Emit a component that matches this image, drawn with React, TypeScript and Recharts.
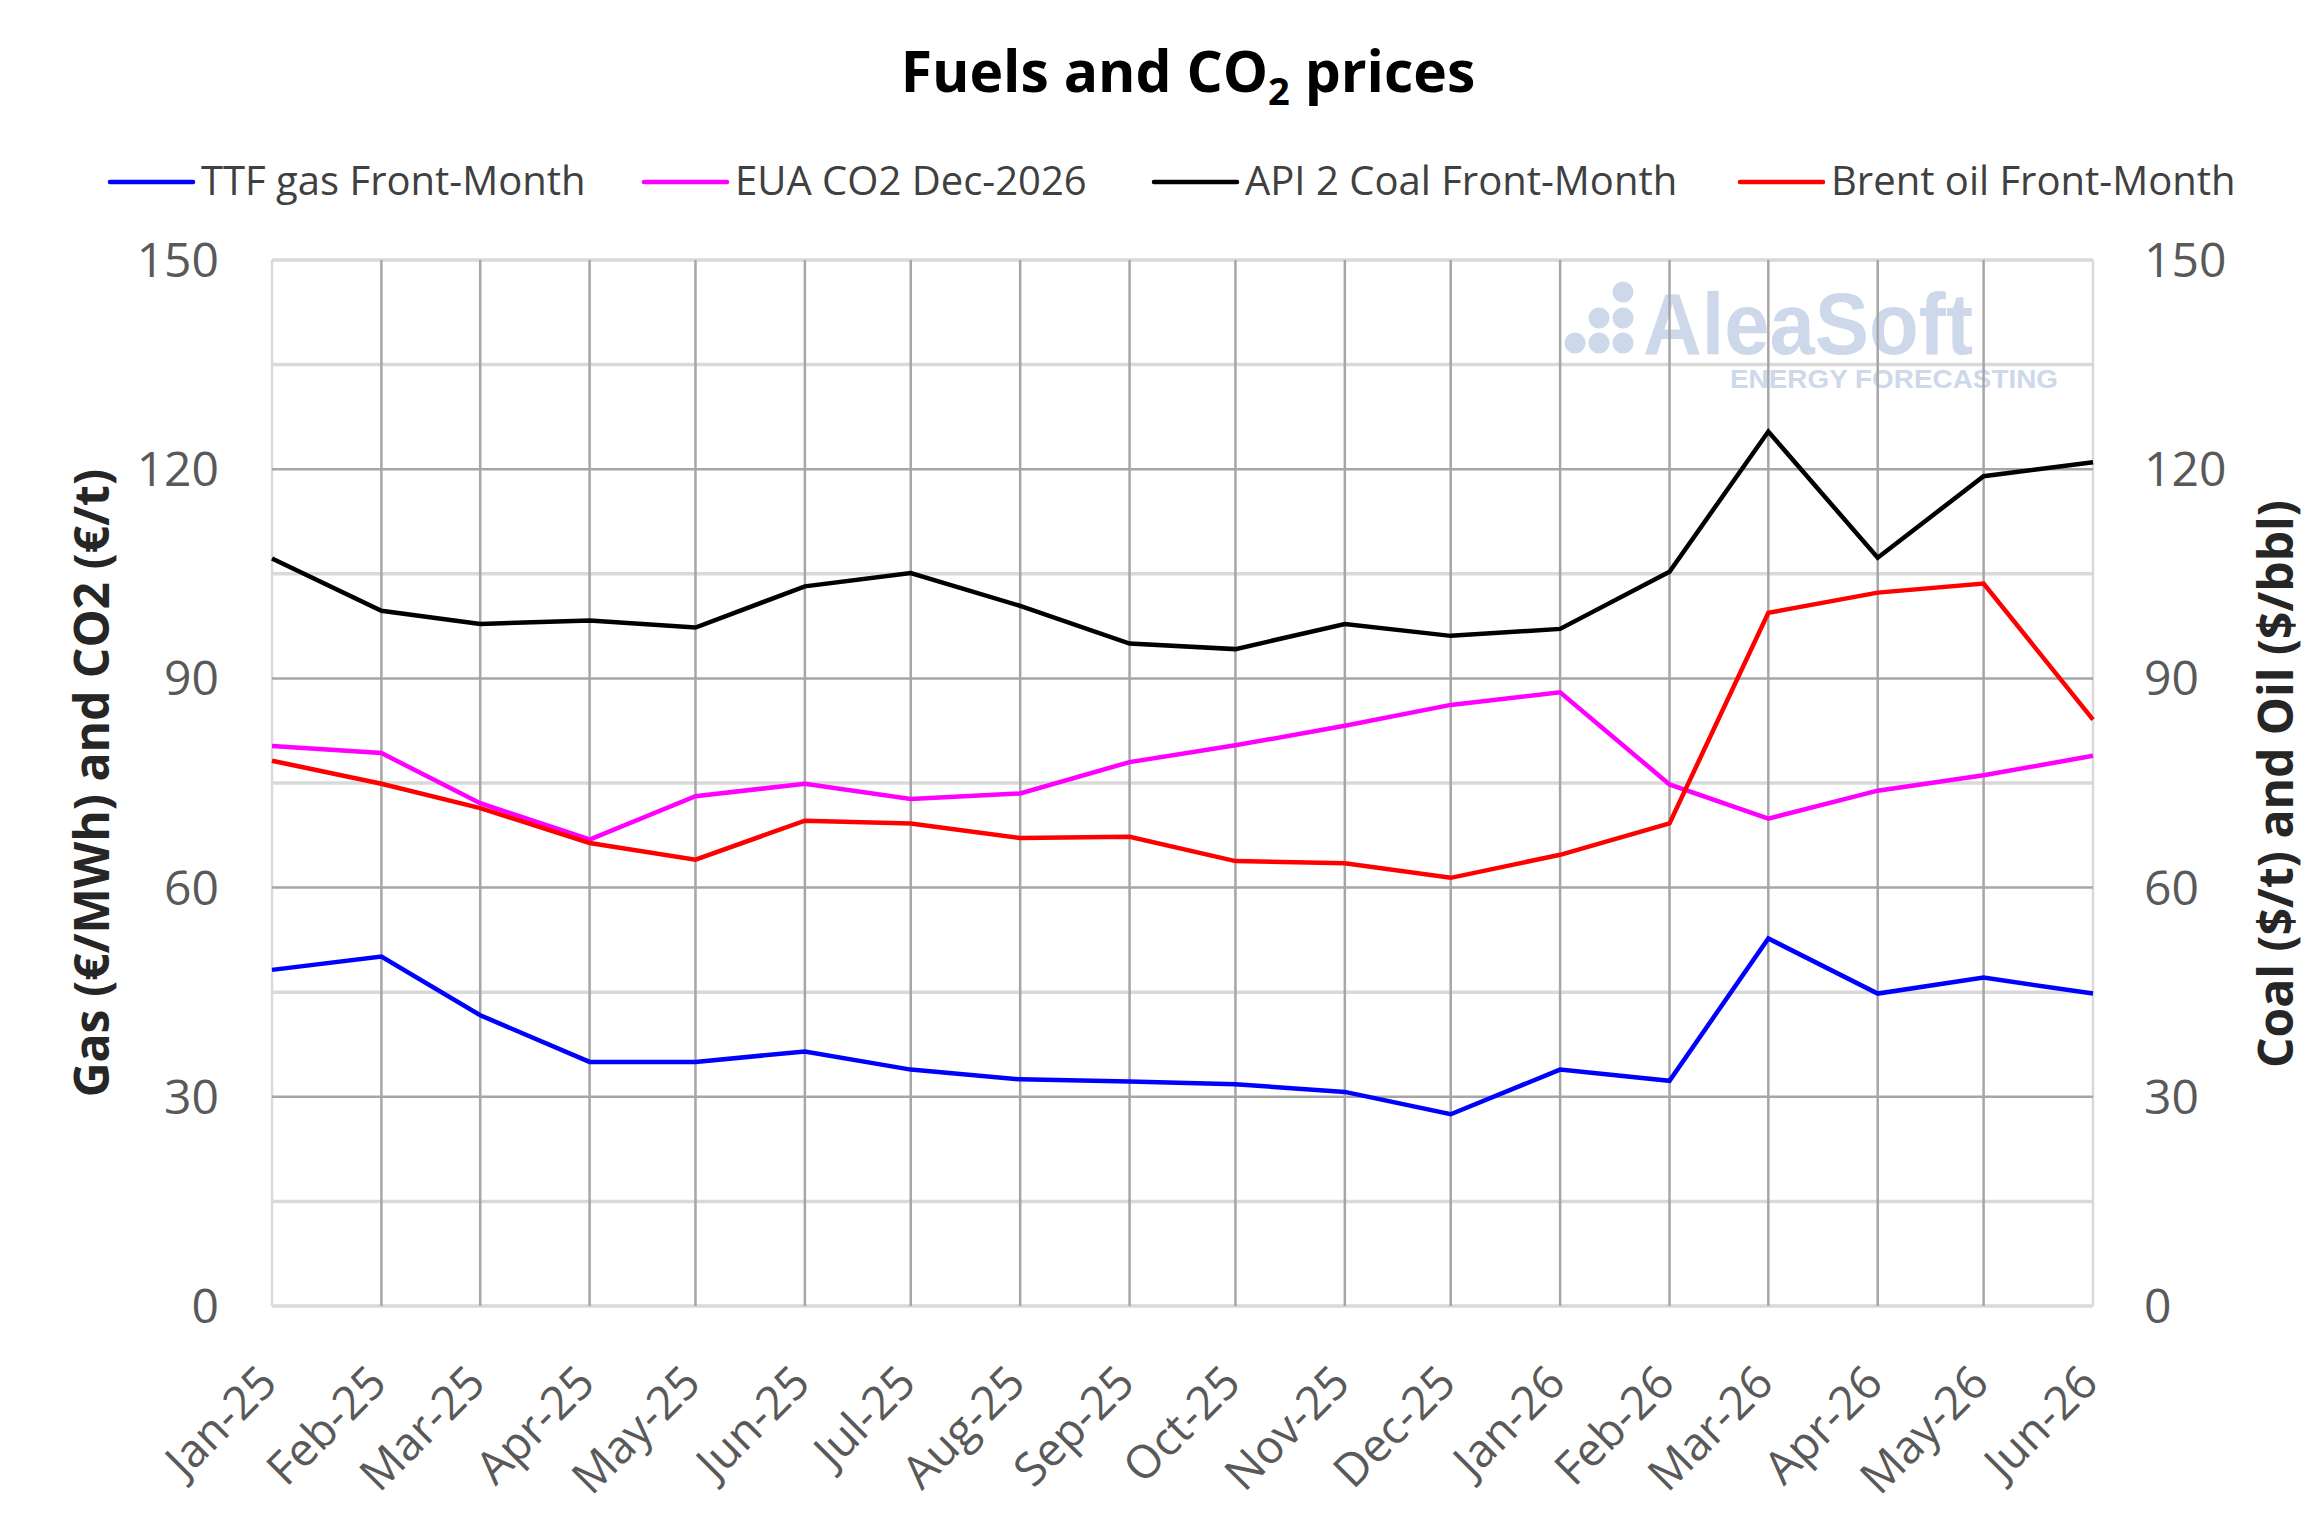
import { LineChart, Line, XAxis, YAxis, CartesianGrid } from 'recharts';

const months = [
  'Jan-25', 'Feb-25', 'Mar-25', 'Apr-25', 'May-25', 'Jun-25', 'Jul-25', 'Aug-25', 'Sep-25',
  'Oct-25', 'Nov-25', 'Dec-25', 'Jan-26', 'Feb-26', 'Mar-26', 'Apr-26', 'May-26', 'Jun-26',
];
// month starts as timestamps, so the axis spacing follows the calendar like the original
const monthStarts = months.map((_, i) => Date.UTC(2025, i, 1));

const ttfGas = [48.2, 50.1, 41.7, 35.0, 35.0, 36.5, 33.9, 32.5, 32.2, 31.8, 30.7, 27.5, 33.9, 32.3, 52.7, 44.8, 47.1, 44.8];
const euaCo2 = [80.3, 79.3, 72.1, 66.9, 73.1, 74.9, 72.7, 73.5, 78.0, 80.4, 83.2, 86.2, 88.0, 74.8, 69.9, 73.9, 76.1, 78.9];
const api2Coal = [107.2, 99.7, 97.8, 98.3, 97.3, 103.2, 105.1, 100.4, 95.0, 94.2, 97.8, 96.1, 97.1, 105.3, 125.4, 107.3, 119.0, 121.0];
const brentOil = [78.2, 74.9, 71.4, 66.4, 64.0, 69.6, 69.2, 67.1, 67.3, 63.8, 63.5, 61.4, 64.7, 69.2, 99.4, 102.3, 103.6, 84.1];

const yTicks = [0, 30, 60, 90, 120, 150];
const majorGrid = [30, 60, 90, 120];
const minorGrid = [0, 15, 45, 75, 105, 135, 150];

const series = [
  { key: 'ttf', name: 'TTF gas Front-Month', color: '#0000ff', axis: 'left' },
  { key: 'eua', name: 'EUA CO2 Dec-2026', color: '#ff00ff', axis: 'left' },
  { key: 'coal', name: 'API 2 Coal Front-Month', color: '#000000', axis: 'right' },
  { key: 'brent', name: 'Brent oil Front-Month', color: '#ff0000', axis: 'right' },
];
const legendX = [110, 644, 1154, 1740];

const data = monthStarts.map((t, i) => ({
  t,
  ttf: ttfGas[i],
  eua: euaCo2[i],
  coal: api2Coal[i],
  brent: brentOil[i],
}));

const FONT = '"Open Sans", "Noto Sans", sans-serif';
const W = 2306;
const H = 1533;

function MonthTick({ x, y, payload }: any) {
  const i = monthStarts.indexOf(payload.value);
  return (
    <g transform={`translate(${x - 4},${y})`}>
      <text
        transform="rotate(-45)"
        textAnchor="end"
        dy="0.35em"
        fontSize={46}
        fontFamily={FONT}
        fill="#595959"
      >
        {months[i]}
      </text>
    </g>
  );
}

function Watermark() {
  const fill = '#cdd9ea';
  return (
    <g>
      <circle cx={1623} cy={292} r={10.5} fill={fill} />
      <circle cx={1599} cy={318} r={10.5} fill={fill} />
      <circle cx={1623} cy={318} r={10.5} fill={fill} />
      <circle cx={1575} cy={343} r={10.5} fill={fill} />
      <circle cx={1599} cy={343} r={10.5} fill={fill} />
      <circle cx={1623} cy={343} r={10.5} fill={fill} />
      <text x={1643} y={354} fontSize={88} fontWeight={700} fontFamily='"Liberation Sans", Arial, sans-serif'
        fill={fill} textLength={330} lengthAdjust="spacingAndGlyphs">AleaSoft</text>
      <text x={1730} y={388} fontSize={26} fontWeight={700} fontFamily='"Liberation Sans", Arial, sans-serif'
        fill={fill} textLength={328} lengthAdjust="spacingAndGlyphs">ENERGY FORECASTING</text>
    </g>
  );
}

export default function App() {
  return (
    <div style={{ position: 'relative', width: W, height: H, background: '#fff', fontFamily: FONT }}>
      <style>{'body{margin:0}'}</style>
      <svg width={W} height={H} style={{ position: 'absolute', left: 0, top: 0 }}>
        <text x={1188} y={92} textAnchor="middle" fontSize={57} fontWeight={700} fontFamily={FONT} fill="#000">
          Fuels and CO<tspan fontSize={38} dy={13}>2</tspan>
          <tspan dy={-13}> prices</tspan>
        </text>
        {series.map((s, i) => (
          <g key={s.key}>
            <line x1={legendX[i]} x2={legendX[i] + 83} y1={182} y2={182} stroke={s.color} strokeWidth={4.5} strokeLinecap="round" />
            <text x={legendX[i] + 91} y={195} fontSize={40} fontFamily={FONT} fill="#404040">{s.name}</text>
          </g>
        ))}
        <Watermark />
      </svg>
      <LineChart width={W} height={H} data={data} margin={{ top: 260, right: 0, bottom: 0, left: 0 }}>
        <CartesianGrid yAxisId="left" horizontalValues={minorGrid} vertical={false} stroke="#d9d9d9" strokeWidth={3.5} />
        <CartesianGrid yAxisId="left" horizontal={false} verticalValues={monthStarts.slice(1, -1)} stroke="#a6a6a6" strokeWidth={2.5} />
        <CartesianGrid yAxisId="left" horizontal={false} verticalValues={[monthStarts[0], monthStarts[monthStarts.length - 1]]} stroke="#d9d9d9" strokeWidth={2.5} />
        <CartesianGrid yAxisId="left" horizontalValues={majorGrid} vertical={false} stroke="#a6a6a6" strokeWidth={2.5} />
        <XAxis
          dataKey="t"
          type="number"
          scale="time"
          domain={[monthStarts[0], monthStarts[monthStarts.length - 1]]}
          ticks={monthStarts}
          interval={0}
          height={227}
          axisLine={false}
          tickLine={false}
          tickSize={0}
          tickMargin={68}
          tick={<MonthTick />}
        />
        <YAxis
          yAxisId="left"
          width={272}
          domain={[0, 150]}
          ticks={yTicks}
          axisLine={false}
          tickLine={false}
          tickSize={0}
          tickMargin={53}
          tick={{ fill: '#595959', fontSize: 48, fontFamily: FONT }}
          label={{
            content: () => (
              <text x={90} y={783} transform="rotate(-90, 90, 783)" textAnchor="middle" dominantBaseline="central"
                fontSize={48} fontWeight={700} fontFamily={FONT} fill="#262626">
                Gas (€/MWh) and CO2 (€/t)
              </text>
            ),
          }}
        />
        <YAxis
          yAxisId="right"
          orientation="right"
          width={213}
          domain={[0, 150]}
          ticks={yTicks}
          axisLine={false}
          tickLine={false}
          tickSize={0}
          tickMargin={51}
          tick={{ fill: '#595959', fontSize: 48, fontFamily: FONT }}
          label={{
            content: () => (
              <text x={2274} y={784} transform="rotate(-90, 2274, 784)" textAnchor="middle" dominantBaseline="central"
                fontSize={48} fontWeight={700} fontFamily={FONT} fill="#262626">
                Coal ($/t) and Oil ($/bbl)
              </text>
            ),
          }}
        />
        {series.map((s) => (
          <Line
            key={s.key}
            yAxisId={s.axis}
            dataKey={s.key}
            name={s.name}
            type="linear"
            stroke={s.color}
            strokeWidth={4.5}
            dot={false}
            activeDot={false}
            isAnimationActive={false}
          />
        ))}
      </LineChart>
    </div>
  );
}
